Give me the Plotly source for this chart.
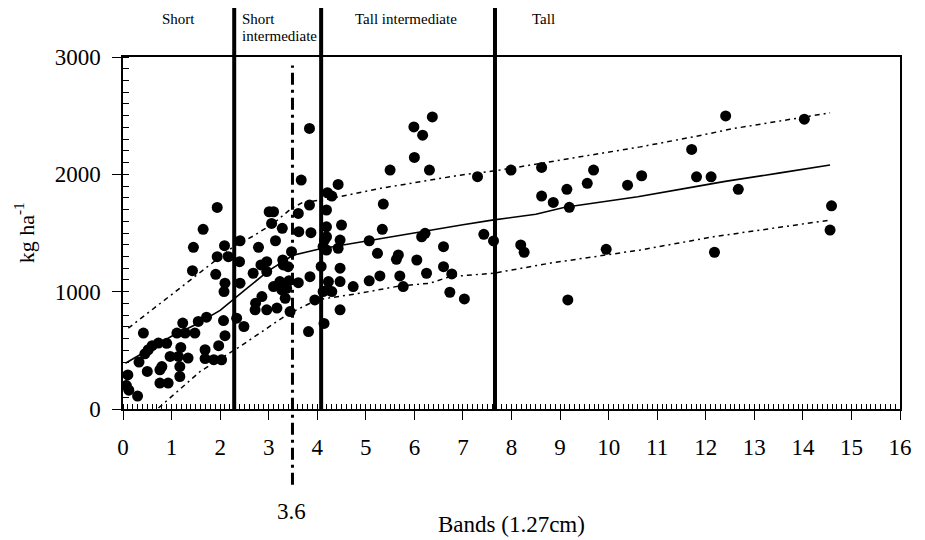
import plotly.graph_objects as go

# Scatter data: band height (x) vs herbage mass kg/ha (y)
x_vals = [
    0.10, 0.07, 0.12, 0.30, 0.33, 0.42, 0.52, 0.50, 0.60, 0.45, 0.73, 0.90, 0.76, 0.76, 0.93, 0.97, 0.80,
    1.17, 1.11, 1.28, 1.19, 1.14, 1.17, 1.23, 1.34, 1.48, 1.55, 1.69, 1.69, 1.87, 2.03, 1.97, 2.10,
    1.72, 2.07, 2.34, 2.49, 1.45, 1.43, 1.65, 1.94, 1.94, 1.91, 2.17, 2.09, 2.10, 2.08,
    2.41, 2.40, 2.41, 2.68, 2.73, 2.72, 2.79, 2.84, 2.86, 2.96, 2.96, 2.96,
    3.01, 3.10, 3.06, 3.14, 3.10, 3.17, 3.27, 3.28, 3.29, 3.30, 3.23, 3.34, 3.37, 3.40, 3.42, 3.44, 3.47,
    3.61, 3.67, 3.62, 3.61, 3.82, 3.84, 3.84, 3.87, 3.85, 3.95,
    4.08, 4.12, 4.12, 4.14, 4.15, 4.19, 4.19, 4.21, 4.19, 4.19, 4.21, 4.23, 4.30, 4.30, 4.43, 4.50, 4.47,
    4.43, 4.47, 4.47, 4.47, 4.74, 5.07, 5.07, 5.24, 5.29, 5.34, 5.36, 5.50, 5.63, 5.67, 5.70, 5.77,
    5.99, 6.00, 6.05, 6.17, 6.15, 6.22, 6.25, 6.31, 6.37, 6.60, 6.60, 6.73, 6.77, 7.03, 7.30, 7.43, 7.63,
    7.99, 8.19, 8.26, 8.62, 8.62, 8.86, 9.14, 9.16, 9.19, 9.56, 9.69, 9.95, 10.39, 10.68, 11.71, 11.81,
    12.11, 12.18, 12.41, 12.67, 14.03, 14.56, 14.59,
]
y_vals = [
    290, 200, 160, 110, 400, 647, 505, 320, 540, 470, 562, 560, 334, 221, 221, 448, 362,
    277, 647, 647, 525, 448, 362, 732, 434, 647, 746, 505, 430, 420, 419, 540, 625,
    783, 754, 774, 703, 1378, 1179, 1531, 1718, 1298, 1148, 1298, 1392, 1072, 1001,
    1434, 1256, 1072, 1157, 902, 845, 1378, 1228, 958, 1256, 1171, 845,
    1681, 1681, 1582, 1434, 1043, 860, 1015, 1540, 1270, 1228, 1086, 944, 1029, 1213, 1094, 830, 1341,
    1667, 1951, 1511, 1077, 660, 1738, 2391, 1503, 1128, 930,
    1215, 1383, 1001, 729, 1440, 1696, 1553, 1843, 1468, 1355, 1015, 1086, 1815, 1001, 1914, 1568, 1440,
    1370, 1200, 1086, 845, 1043, 1434, 1092, 1327, 1134, 1531, 1747, 2036, 1276, 1313, 1134, 1043,
    2404, 2144, 1270, 2334, 1468, 1497, 1157, 2036, 2489, 1383, 1213, 995, 1151, 938, 1980, 1489, 1432,
    2036, 1398, 1336, 2059, 1815, 1761, 1872, 930, 1719, 1923, 2036, 1361, 1908, 1988, 2212, 1979,
    1979, 1336, 2498, 1872, 2470, 1525, 1732,
]

# Fitted curve and its prediction bands
fit_x = [0.05, 0.5, 1.0, 1.5, 2.0, 2.5, 3.0, 3.5, 4.0, 4.5, 5.0, 5.5, 6.0, 6.5, 7.0, 7.6,
         8.5, 9.1, 10.0, 10.6, 11.7, 12.4, 13.5, 14.56]
fit_y = [390, 500, 620, 720, 840, 1010, 1180, 1310, 1360, 1395, 1430, 1465, 1500, 1540, 1570, 1610,
         1660, 1720, 1770, 1809, 1889, 1940, 2010, 2079]
upper_x = [0.11, 1.52, 2.27, 2.68, 3.10, 3.47, 3.7, 4.19, 5.29, 6.12, 6.94, 7.76, 8.90, 9.14,
           10.65, 11.74, 12.57, 14.56]
upper_y = [689, 1143, 1383, 1474, 1582, 1710, 1760, 1787, 1880, 1937, 1993, 2036, 2113, 2135,
           2234, 2319, 2390, 2524]
lower_x = [0.73, 1.59, 2.41, 3.37, 3.99, 4.88, 5.70, 6.32, 6.73, 7.63, 8.90, 9.14, 10.65, 12.16, 14.56]
lower_y = [8, 320, 533, 802, 930, 987, 1049, 1072, 1128, 1157, 1251, 1264, 1355, 1468, 1610]

# Height class boundaries and threshold
band_edges = [2.29, 4.08, 7.66]
threshold_x = 3.49
threshold_label = "3.6"
class_labels = ["Short", "Short", "intermediate", "Tall intermediate", "Tall"]
class_label_x = [1.14, 2.4, 2.4, 5.83, 8.65]
class_label_y = [1.108, 1.108, 1.06, 1.108, 1.108]
class_label_anchor = ["center", "left", "left", "center", "center"]

FONT = "Liberation Serif"
band_dash = "5px,4px,2px,4px"

fig = go.Figure()
fig.add_trace(go.Scatter(x=upper_x, y=upper_y, mode="lines",
                         line=dict(color="black", width=1.5, dash=band_dash), hoverinfo="skip"))
fig.add_trace(go.Scatter(x=lower_x, y=lower_y, mode="lines",
                         line=dict(color="black", width=1.5, dash=band_dash), hoverinfo="skip"))
fig.add_trace(go.Scatter(x=fit_x, y=fit_y, mode="lines",
                         line=dict(color="black", width=1.6), hoverinfo="skip"))
fig.add_trace(go.Scatter(x=x_vals, y=y_vals, mode="markers",
                         marker=dict(color="black", size=11, line=dict(width=0))))

for e in band_edges:
    fig.add_shape(type="line", xref="x", yref="paper", x0=e, x1=e, y0=0, y1=1.141,
                  line=dict(color="black", width=4), layer="above")
fig.add_shape(type="line", xref="x", yref="paper", x0=threshold_x, x1=threshold_x, y0=-0.215, y1=0.976,
              line=dict(color="black", width=3, dash="12px,5px,3px,5px"), layer="above")

for lab, lx, ly, anc in zip(class_labels, class_label_x, class_label_y, class_label_anchor):
    fig.add_annotation(x=lx, y=ly, xref="x", yref="paper", text=lab, showarrow=False,
                       xanchor=anc, yanchor="middle", align="left",
                       font=dict(family=FONT, size=15, color="black"))

fig.add_annotation(x=threshold_x - 0.03, y=-0.29, xref="x", yref="paper", text=threshold_label,
                   showarrow=False, xanchor="center", yanchor="middle",
                   font=dict(family=FONT, size=23, color="black"))
fig.add_annotation(x=0.5, y=-0.327, xref="paper", yref="paper", text="Bands (1.27cm)",
                   showarrow=False, xanchor="center", yanchor="middle",
                   font=dict(family=FONT, size=23, color="black"))
fig.add_annotation(x=-0.127, y=0.5, xref="paper", yref="paper", text="kg ha<sup>-1</sup>",
                   showarrow=False, textangle=-90, xanchor="center", yanchor="middle",
                   font=dict(family=FONT, size=22, color="black"))

# The page adds an 8px body margin; size the figure so the plot sits where the reference has it.
fig.update_layout(
    width=917, height=532,
    margin=dict(l=115, r=25, t=49, b=131),
    paper_bgcolor="white", plot_bgcolor="white",
    showlegend=False,
    font=dict(family=FONT, color="black"),
    xaxis=dict(range=[0, 16], dtick=1, tick0=0, showgrid=False, zeroline=False,
               showline=True, linecolor="black", linewidth=1.5, mirror=True,
               ticks="outside", ticklen=9, tickwidth=1, tickcolor="black",
               tickfont=dict(family=FONT, size=23, color="black"), ticklabelstandoff=8,
               minor=dict(ticks="inside", dtick=0.1, ticklen=5, tickwidth=1, tickcolor="black", showgrid=False)),
    yaxis=dict(range=[0, 3000], dtick=1000, tick0=0, showgrid=False, zeroline=False,
               showline=True, linecolor="black", linewidth=1.5, mirror=True,
               ticks="outside", ticklen=9, tickwidth=1, tickcolor="black",
               tickfont=dict(family=FONT, size=23, color="black"), ticklabelstandoff=7,
               minor=dict(ticks="inside", dtick=100, ticklen=6, tickwidth=1, tickcolor="black", showgrid=False)),
)

fig.write_html("out.html")
